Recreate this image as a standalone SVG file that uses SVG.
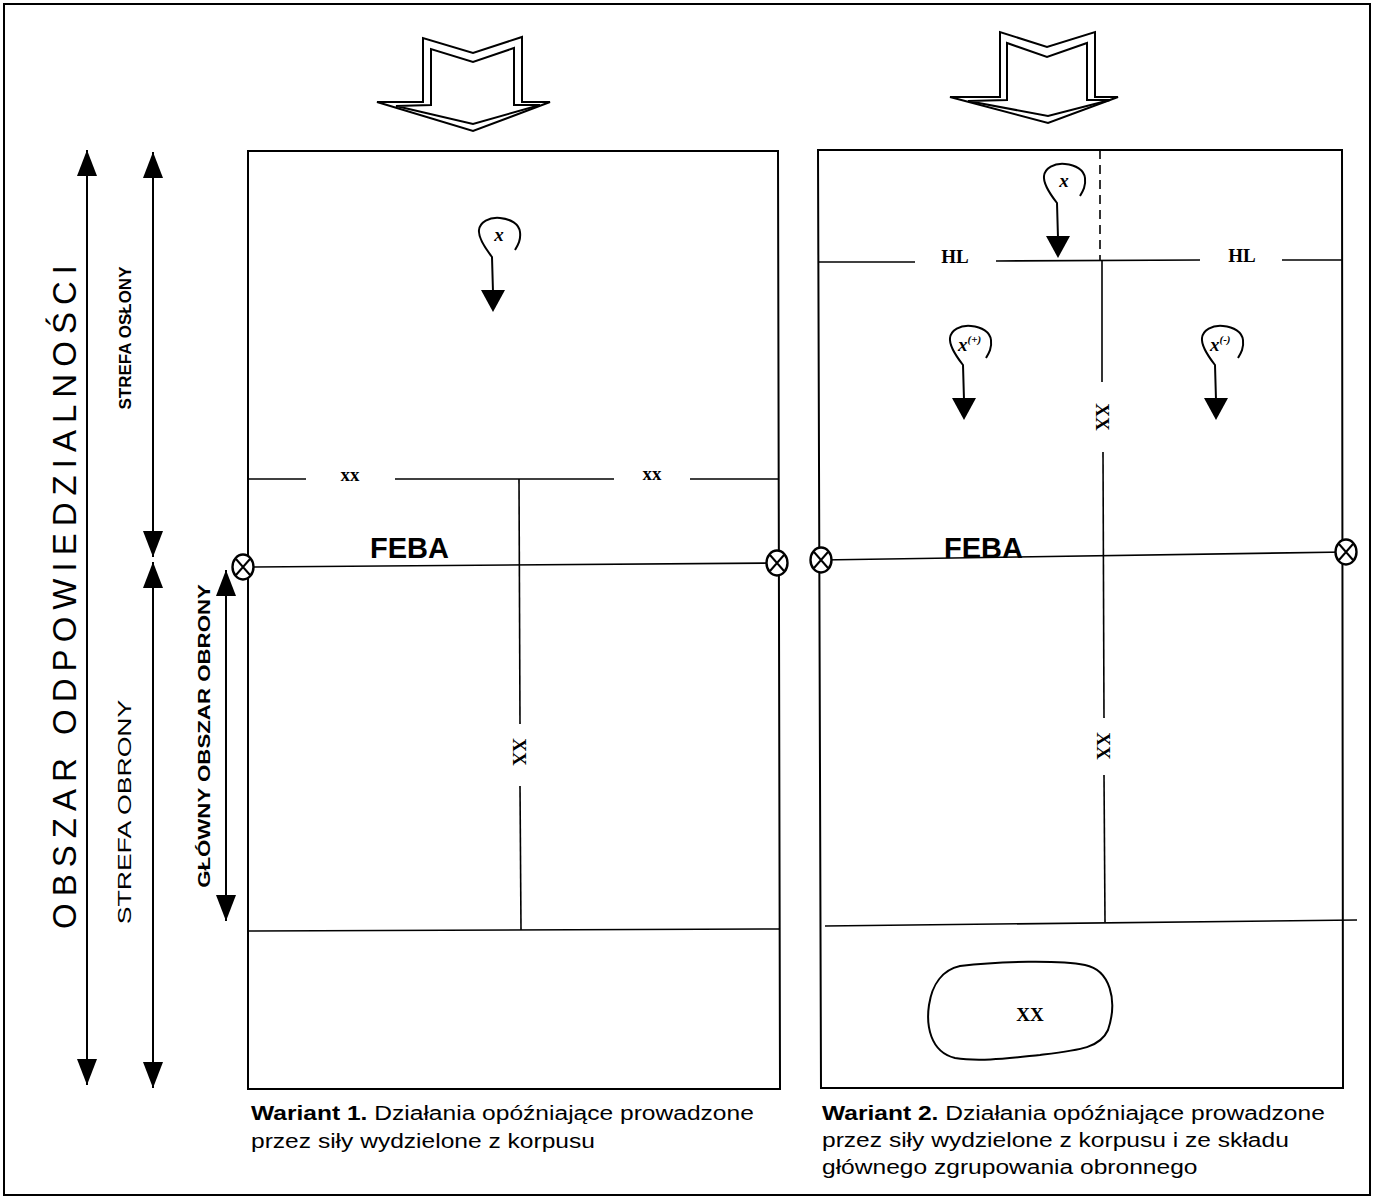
<svg xmlns="http://www.w3.org/2000/svg" width="1374" height="1199" viewBox="0 0 1374 1199">
  <style>
    .ln { stroke: #000; stroke-width: 2; fill: none; }
    .thin { stroke: #000; stroke-width: 1.6; fill: none; }
    .dash { stroke: #000; stroke-width: 1.6; fill: none; stroke-dasharray: 9 6; }
    .lbl { font-family: "Liberation Serif", serif; font-weight: bold; font-size: 19px; fill: #000; }
    .unit { font-family: "Liberation Serif", serif; font-weight: bold; font-style: italic; font-size: 19px; fill: #000; }
    .feba { font-family: "Liberation Sans", Arial, sans-serif; font-weight: bold; font-size: 29px; fill: #000; }
    .side { font-family: "Liberation Sans", Arial, sans-serif; font-size: 19px; fill: #000; }
    .sideb { font-family: "Liberation Sans", Arial, sans-serif; font-weight: bold; font-size: 17px; fill: #000; }
    .big { font-family: "Liberation Sans", Arial, sans-serif; font-size: 33px; fill: #000; }
    .cap { font-family: "Liberation Sans", Arial, sans-serif; font-size: 21px; fill: #000; }
    .cross { stroke: #000; stroke-width: 2.4; fill: #fff; }
  </style>
  <defs>
    <!-- hooked unit symbol: loop, stem and arrowhead, origin at loop centre -->
    <g id="hook">
      <path class="ln" d="M-6,58 L-7,23 C-14,14 -21,4 -20,-4 C-19,-12 -10,-17 1,-16 C12,-15 20,-10 21,-2 C22,6 19,11 16,16"/>
      <path d="M-18,56 L6,56 L-6,78 Z" fill="#000"/>
    </g>
    <!-- boundary point marker -->
    <g id="pt">
      <ellipse class="cross" cx="0" cy="0" rx="10.5" ry="12.5"/>
      <path stroke="#000" stroke-width="2" d="M-7,-8 L7,8 M7,-8 L-7,8"/>
    </g>
    <marker id="tri" viewBox="0 0 26 20" refX="26" refY="10" markerWidth="26" markerHeight="20" markerUnits="userSpaceOnUse" orient="auto-start-reverse">
      <path d="M0,0 L26,10 L0,20 Z" fill="#000"/>
    </marker>
  </defs>

  <!-- page frame -->
  <rect x="4" y="4" width="1366" height="1191" fill="none" stroke="#000" stroke-width="2"/>

  <!-- direction-of-attack arrows -->
  <g id="attack-arrow-1" class="ln">
    <path d="M377,102 L423,102 L423,38 L473,53 L522,37 L522,102 L550,102 L473,131 Z"/>
    <path d="M396,106 L431,105 L431,49 L473,62 L514,48 L514,105 L540,105 L473,124 Z"/>
  </g>
  <g id="attack-arrow-2" class="ln">
    <path d="M950,97 L1000,97 L1000,32 L1047,47 L1095,32 L1095,97 L1118,97 L1048,123 Z"/>
    <path d="M968,101 L1007,100 L1007,43 L1047,57 L1087,43 L1087,100 L1110,100 L1048,116 Z"/>
  </g>

  <!-- depth arrows on the left -->
  <g id="depth-arrows">
    <line class="ln" x1="87" y1="150" x2="87" y2="1085" marker-start="url(#tri)" marker-end="url(#tri)"/>
    <line class="ln" x1="153" y1="152" x2="153" y2="557" marker-start="url(#tri)" marker-end="url(#tri)"/>
    <line class="ln" x1="153" y1="562" x2="153" y2="1088" marker-start="url(#tri)" marker-end="url(#tri)"/>
    <line class="ln" x1="226" y1="570" x2="226" y2="921" marker-start="url(#tri)" marker-end="url(#tri)"/>
  </g>
  <g id="zone-labels">
    <text class="big" transform="translate(76,597) rotate(-90)" text-anchor="middle" textLength="664" lengthAdjust="spacing">OBSZAR ODPOWIEDZIALNOŚCI</text>
    <text class="sideb" transform="translate(131,338) rotate(-90)" text-anchor="middle">STREFA OSŁONY</text>
    <text class="side" transform="translate(131,812) rotate(-90) scale(1.4,1)" text-anchor="middle">STREFA OBRONY</text>
    <text class="sideb" transform="translate(210,736) rotate(-90) scale(1.31,1)" text-anchor="middle" font-size="19">GŁÓWNY OBSZAR OBRONY</text>
  </g>

  <!-- variant 1 -->
  <g id="variant-1">
    <path class="ln" d="M248,151 L778,151 L780,1089 L248,1089 Z"/>
    <g class="thin">
      <line x1="248" y1="479" x2="306" y2="479"/>
      <line x1="395" y1="479" x2="614" y2="479"/>
      <line x1="690" y1="479" x2="779" y2="479"/>
      <line x1="519" y1="479" x2="520" y2="724"/>
      <line x1="520" y1="786" x2="521" y2="930"/>
      <line x1="248" y1="567" x2="778" y2="563"/>
      <line x1="248" y1="931" x2="779" y2="929"/>
    </g>
    <text class="lbl" x="350" y="481" text-anchor="middle">xx</text>
    <text class="lbl" x="652" y="480" text-anchor="middle">xx</text>
    <text class="lbl" transform="translate(513,752) rotate(90)" text-anchor="middle" font-size="23">XX</text>
    <text class="feba" x="370" y="558">FEBA</text>
    <use href="#pt" x="243" y="567"/>
    <use href="#pt" x="777" y="563"/>
    <g id="unit-x-1">
      <use href="#hook" x="499" y="234"/>
      <text class="unit" x="499" y="241" text-anchor="middle">x</text>
    </g>
  </g>

  <!-- variant 2 -->
  <g id="variant-2">
    <path class="ln" d="M818,150 L1342,150 L1343,1088 L821,1088 Z"/>
    <g class="thin">
      <line x1="818" y1="262" x2="915" y2="262"/>
      <line x1="996" y1="261" x2="1200" y2="260"/>
      <line x1="1282" y1="260" x2="1342" y2="260"/>
      <line class="dash" x1="1100" y1="150" x2="1100" y2="260"/>
      <line x1="1102" y1="261" x2="1102" y2="382"/>
      <line x1="1103" y1="452" x2="1104" y2="718"/>
      <line x1="1104" y1="775" x2="1105" y2="922"/>
      <line x1="821" y1="560" x2="1346" y2="552"/>
      <line x1="825" y1="926" x2="1357" y2="920"/>
    </g>
    <text class="lbl" x="955" y="263" text-anchor="middle">HL</text>
    <text class="lbl" x="1242" y="262" text-anchor="middle">HL</text>
    <text class="lbl" transform="translate(1096,417) rotate(90)" text-anchor="middle" font-size="23">XX</text>
    <text class="lbl" transform="translate(1097,746) rotate(90)" text-anchor="middle" font-size="23">XX</text>
    <text class="feba" x="944" y="558">FEBA</text>
    <use href="#pt" x="821" y="560"/>
    <use href="#pt" x="1346" y="552"/>
    <g id="unit-x-2">
      <use href="#hook" x="1064" y="180"/>
      <text class="unit" x="1064" y="187" text-anchor="middle">x</text>
    </g>
    <g id="unit-x-plus">
      <use href="#hook" x="970" y="342"/>
      <text class="unit" x="958" y="351" font-size="17">x<tspan font-size="11" dy="-8">(+)</tspan></text>
    </g>
    <g id="unit-x-minus">
      <use href="#hook" x="1222" y="342"/>
      <text class="unit" x="1210" y="351" font-size="17">x<tspan font-size="11" dy="-8">(-)</tspan></text>
    </g>
    <g id="main-group">
      <path class="ln" d="M960,966 C1000,961 1060,960 1085,965 C1110,970 1118,1000 1108,1030 C1100,1048 1080,1050 1040,1055 C1010,1058 980,1062 955,1058 C930,1052 926,1025 929,1005 C932,985 942,970 960,966 Z"/>
      <text class="lbl" x="1030" y="1021" text-anchor="middle" font-size="23">XX</text>
    </g>
  </g>

  <!-- captions (text set slightly wide) -->
  <g id="captions">
    <text class="cap" transform="translate(251,1120) scale(1.17,1)"><tspan font-weight="bold">Wariant 1.</tspan>  Działania opóźniające prowadzone</text>
    <text class="cap" transform="translate(251,1148) scale(1.17,1)">przez siły wydzielone z korpusu</text>
    <text class="cap" transform="translate(822,1120) scale(1.17,1)"><tspan font-weight="bold">Wariant 2.</tspan> Działania opóźniające prowadzone</text>
    <text class="cap" transform="translate(822,1147) scale(1.17,1)">przez siły wydzielone z korpusu i ze składu</text>
    <text class="cap" transform="translate(822,1174) scale(1.17,1)">głównego zgrupowania obronnego</text>
  </g>
</svg>
